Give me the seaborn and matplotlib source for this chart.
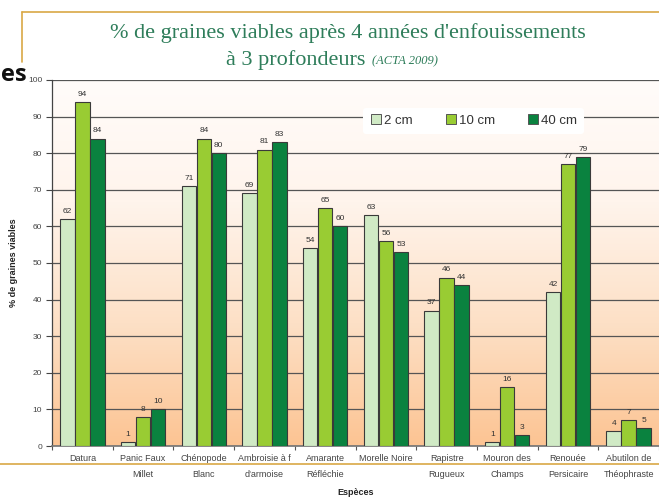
import numpy as np
import pandas as pd
import matplotlib
matplotlib.use("Agg")
import matplotlib.pyplot as plt
from matplotlib.colors import LinearSegmentedColormap
from matplotlib.lines import Line2D
import seaborn as sns

species = ["Datura", "Panic Faux\nMillet", "Chénopode\nBlanc", "Ambroisie à f\nd'armoise",
           "Amarante\nRéfléchie", "Morelle Noire", "Rapistre\nRugueux", "Mouron des\nChamps",
           "Renouée\nPersicaire", "Abutilon de\nThéophraste"]
depths = ["2 cm", "10 cm", "40 cm"]
v_2cm = [62, 1, 71, 69, 54, 63, 37, 1, 42, 4]
v_10cm = [94, 8, 84, 81, 65, 56, 46, 16, 77, 7]
v_40cm = [84, 10, 80, 83, 60, 53, 44, 3, 79, 5]
y_ticks = [0, 10, 20, 30, 40, 50, 60, 70, 80, 90, 100]

colors = ["#d0eac5", "#99cc33", "#0a823f"]

df = pd.DataFrame({
    "Espèce": species * 3,
    "Profondeur": [d for d in depths for _ in species],
    "Valeur": v_2cm + v_10cm + v_40cm,
})

sns.set_theme(style="white")
plt.rcParams['font.family'] = ['Liberation Sans', 'DejaVu Sans']

fig = plt.figure(figsize=(6.59, 4.98), dpi=100)
ax = fig.add_axes([0.079, 0.1044, 0.921, 0.735])

# gradient background
grad = np.linspace(0, 1, 256).reshape(-1, 1)
cmap = LinearSegmentedColormap.from_list("bg", ["#fcc493", "#fde0c6", "#fff4ec", "#fffcfa"])
ax.imshow(grad, extent=[-0.5, len(species) - 0.5, 0, 100], aspect="auto",
          cmap=cmap, origin="lower", zorder=0)

sns.barplot(data=df, x="Espèce", y="Valeur", hue="Profondeur", palette=colors,
            saturation=1, width=0.74, edgecolor="#3a3a3a", linewidth=0.8, ax=ax, zorder=3,
            legend=False, gap=0.04)

for cont in ax.containers:
    ax.bar_label(cont, fmt="%d", fontsize=6, color="#333333", padding=3)

ax.set_xlim(-0.5, len(species) - 0.5)
ax.set_ylim(0, 100)
ax.set_yticks(y_ticks)
ax.yaxis.grid(True, color="#555555", linewidth=0.9, zorder=1)
for gl in ax.get_ygridlines():
    gl.set_zorder(1)

ax.tick_params(axis="y", labelsize=6, colors="#444444", length=4, width=0.8,
               direction="out", left=True, pad=3)
ax.tick_params(axis="x", labelsize=6.5, colors="#444444", length=0, pad=6)
for t in ax.get_xticklabels():
    t.set_linespacing(1.9)
    t.set_verticalalignment("top")
ax.set_xticks(np.arange(-0.5, len(species), 1), minor=True)
ax.tick_params(axis="x", which="minor", length=3, width=0.8, color="#555555", direction="out",
               bottom=True)

for s in ["top", "right"]:
    ax.spines[s].set_visible(False)
ax.spines["left"].set_color("#444444")
ax.spines["bottom"].set_color("#777777")
ax.spines["left"].set_linewidth(0.9)

ax.set_xlabel("Espèces", fontsize=6.5, fontweight="bold", color="#222222")
ax.xaxis.set_label_coords(0.5, (446 - 492) / 366)
ax.xaxis.label.set_verticalalignment("center")
ax.set_ylabel("% de graines viables", fontsize=6.5, fontweight="bold", color="#222222")
ax.yaxis.set_label_coords((18 - 52) / 607, 0.5)

handles = [Line2D([0], [0], marker="s", linestyle="none", markersize=7,
                  markerfacecolor=c, markeredgecolor="#555555", markeredgewidth=0.7)
           for c in colors]
leg = ax.legend(handles, depths, loc="center", bbox_to_anchor=(0.694, 0.888), ncol=3,
                frameon=True, fontsize=9.5, handletextpad=0.1, columnspacing=2.4,
                handlelength=1.0, borderpad=0.5, labelcolor="#333333")
leg.get_frame().set_facecolor("white")
leg.get_frame().set_edgecolor("none")
leg.get_frame().set_alpha(1)
leg.set_zorder(5)

# slide decorations
gold = "#d9a845"
fig.add_artist(Line2D([22 / 659, 22 / 659], [1 - 62 / 498, 1 - 12 / 498],
                      color=gold, linewidth=1.2, transform=fig.transFigure))
fig.add_artist(Line2D([22 / 659, 1.0], [1 - 12 / 498, 1 - 12 / 498],
                      color=gold, linewidth=1.2, transform=fig.transFigure))
fig.add_artist(Line2D([0, 1.0], [1 - 464 / 498, 1 - 464 / 498],
                      color=gold, linewidth=1.2, transform=fig.transFigure, zorder=0))

title_color = "#2e7d5a"
fig.text(348 / 659, 1 - 33 / 498, "% de graines viables après 4 années d'enfouissements",
         ha="center", va="center", fontsize=16, color=title_color, family="Liberation Serif")
fig.text(226 / 659, 1 - 60 / 498, "à 3 profondeurs", ha="left", va="center",
         fontsize=16, color=title_color, family="Liberation Serif")
fig.text(372 / 659, 1 - 61 / 498, "(ACTA 2009)", ha="left", va="center",
         fontsize=9, color=title_color, family="Liberation Serif", style="italic")

fig.text(1 / 659, 1 - 75 / 498, "es", ha="left", va="center", fontsize=17,
         fontweight="bold", color="#111111", family="Open Sans")

fig.savefig("out.png", dpi=100)
